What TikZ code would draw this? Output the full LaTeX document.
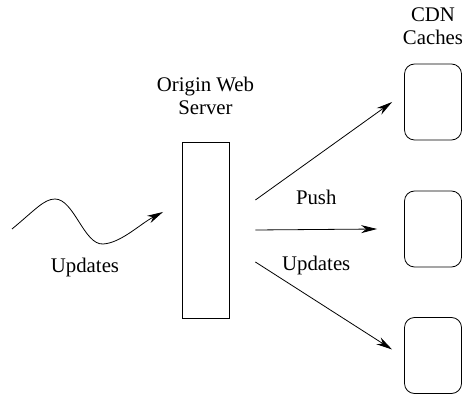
\documentclass[tikz,border=0pt]{standalone}
\usepackage{fontspec}
\setmainfont{Liberation Serif}
\usepackage{tikz}
\usetikzlibrary{arrows.meta, positioning, calc}
\tikzset{>={Stealth[length=8pt,width=4pt,inset=2.5pt]},
    x={(0.5pt,0)}, y={(0,-0.5pt)},
    line width=0.5pt,
    server/.style={rectangle,draw,minimum width=23.5pt,minimum height=88pt,inner sep=0pt},
    cache/.style={rectangle,draw,rounded corners=5pt,minimum width=28.5pt,minimum height=38pt,inner sep=0pt},
    textnode/.style={align=center,font=\fontsize{10.4}{11.5}\selectfont,inner sep=0pt},
    push/.style={->}}

\begin{document}
\begin{tikzpicture}
\useasboundingbox (0,0) rectangle (464,394);
\node[server]   (srv)    at (205.5,230)  {};
\node[cache]    (cdnA)   at (433,102)    {};
\node[cache]    (cdnB)   at (433,229)    {};
\node[cache]    (cdnC)   at (433,355.5)  {};

\node[textnode] (srvlbl) [above=13pt of srv]  {Origin Web\\Server};
\node[textnode] (cdnlbl) [above=9pt of cdnA]  {CDN\\Caches};

% incoming updates
\coordinate (src) at (12,229);
\coordinate (tip) at (163,212);
\node[textnode] (inlbl) at (85,267) {Updates};
\draw[->] (src) .. controls (35,210) and (44,199) .. (55,199)
    .. controls (74,199) and (84,245) .. (103,244)
    .. controls (121,243) and (140,224) .. (tip);

% push to the caches
\draw[push] ($(srv.east)+(26,-30)$) -- ($(cdnA.west)+(-12,0)$);
\draw[push] ($(srv.east)+(26,0)$) -- ($(cdnB.west)+(-27,0)$)
    node[textnode, midway, above=12pt] (pushlbl) {Push}
    node[textnode, midway, below=13pt] (updlbl) {Updates};
\draw[push] ($(srv.east)+(26,32)$) -- ($(cdnC.west)+(-12,-6)$);
\end{tikzpicture}
\end{document}
